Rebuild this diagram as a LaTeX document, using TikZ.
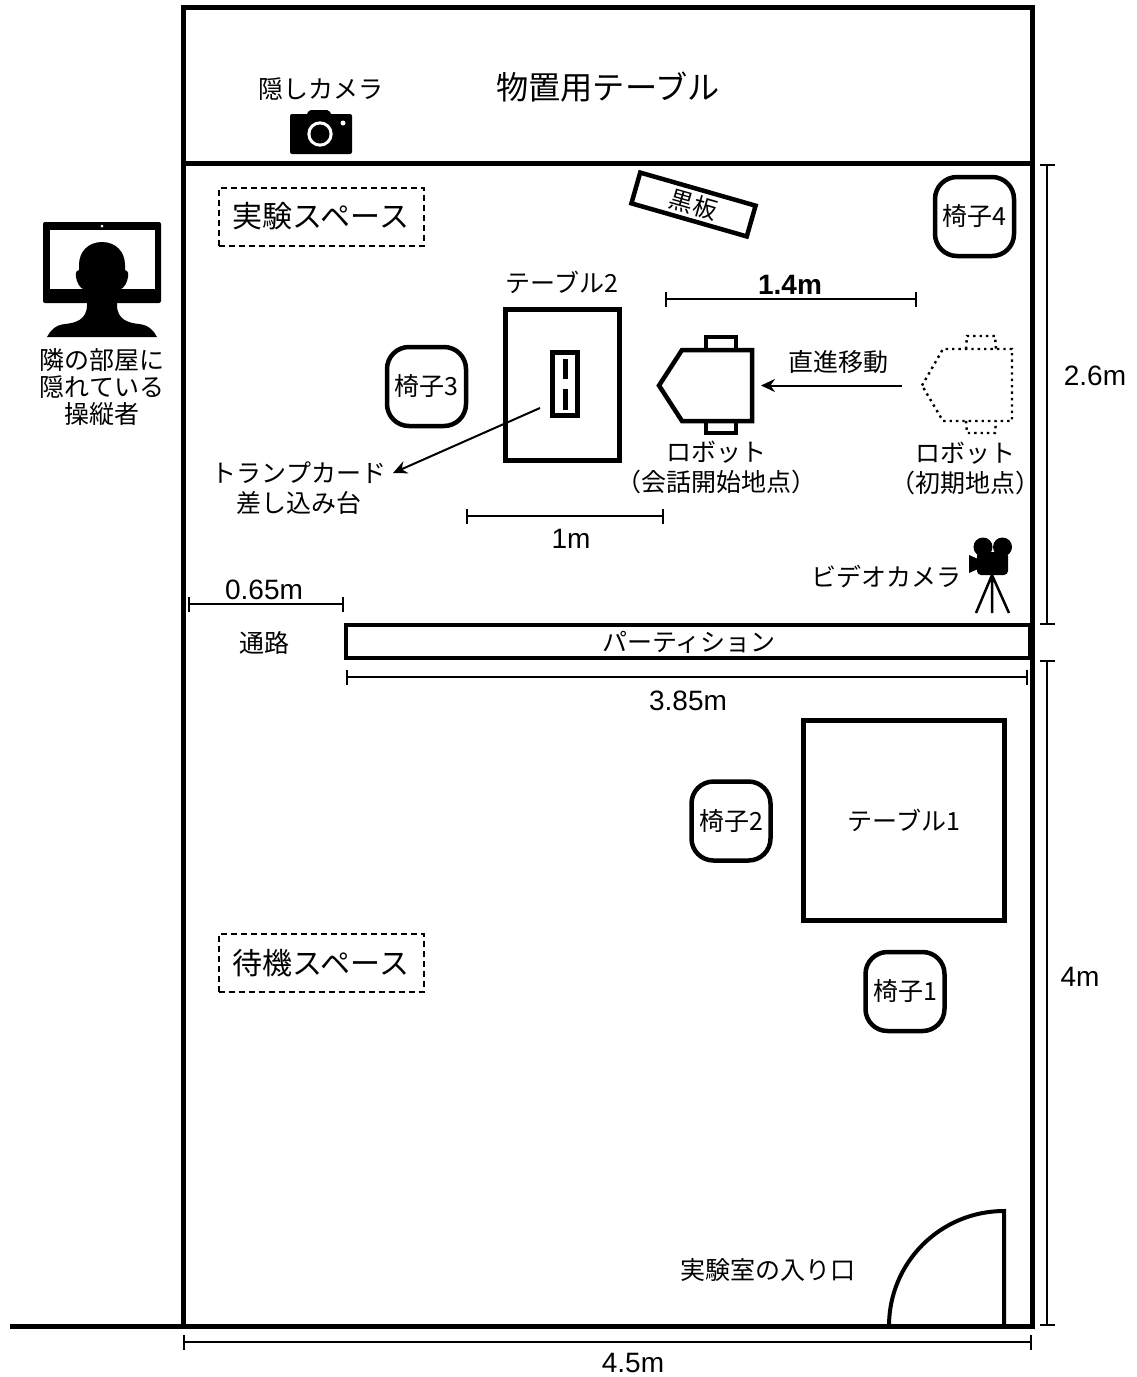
\documentclass[tikz,border=0pt]{standalone}
\usepackage{fontspec}
\setmainfont{Noto Sans CJK JP}
\newfontfamily\dimfont{Liberation Sans}
\usetikzlibrary{arrows.meta}

\begin{document}
\begin{tikzpicture}[x=0.5pt, y=-0.5pt,
    wall/.style={line width=2.5pt},
    thing/.style={draw, line width=2.25pt, inner sep=0},
    chair/.style={thing, rounded corners=11pt, minimum width=39.5pt,
            minimum height=39.5pt, font=\fontsize{12.5}{14}\selectfont},
    space/.style={draw, dash pattern=on 3pt off 2pt, line width=1pt, minimum width=102.5pt,
            minimum height=29pt, font=\fontsize{15}{17}\selectfont},
    label/.style={inner sep=0, align=center, font=\fontsize{12.5}{13.5}\selectfont},
    dimlabel/.style={inner sep=0, font=\fontsize{14}{16}\selectfont\dimfont},
    dimline/.style={line width=1pt, {Bar[width=7.5pt]}-{Bar[width=7.5pt]}},
    pointer/.style={line width=1pt, -{Stealth[length=7pt, width=6.5pt]}}]
  \useasboundingbox (0,0) rectangle (1136,1377);

  \draw[wall] (183,7) rectangle (1032,1326);
  \draw[wall] (183,163) -- (1032,163);
  \draw[wall] (10,1326) -- (183,1326);

  \node[label, font=\fontsize{16.1}{18}\selectfont] (shelf) at (608,87) {物置用テーブル};
  \node[label] (hiddenlabel) at (321,89) {隠しカメラ};
  \fill[rounded corners=1pt] (290,114) rectangle (352,154);
  \fill[rounded corners=1pt] (305,118) -- (309,110) -- (329,110) -- (333,118) -- cycle;
  \fill[white] (320,134) circle (12.7);
  \fill (320,134) circle (9.5);
  \fill[white] (343,123) circle (2.5);

  \fill[rounded corners=1pt] (43,222) rectangle (161,303);
  \fill[white] (50,230) rectangle (155,289);
  \fill[white] (102,226) circle (1.5);
  \fill (102,242) .. controls (88,242) and (79,252) .. (79,265)
    -- (79,270) .. controls (75,271) and (75,275) .. (77,281)
    .. controls (79,287) and (82,289) .. (87,291)
    -- (87,305) .. controls (87,320) and (75,323) .. (65,324)
    .. controls (55,325) and (50,331) .. (47,337) -- (157,337)
    .. controls (154,331) and (149,325) .. (139,324)
    .. controls (129,323) and (117,320) .. (117,305)
    -- (117,291) .. controls (122,289) and (125,287) .. (127,281)
    .. controls (129,275) and (129,271) .. (125,270)
    -- (125,265) .. controls (125,252) and (116,242) .. (102,242) -- cycle;
  \node[label] (operator) at (102,387) {隣の部屋に\\隠れている\\操縦者};

  \node[space] (testspace) at (321,216.5) {実験スペース};
  \node[space] (waitspace) at (321,963) {待機スペース};

  \node[thing, rotate=-16, minimum width=60pt, minimum height=16pt,
    font=\fontsize{12}{13}\selectfont] (board) at (693.5,204.5) {黒板};

  \foreach \n/\x/\y in {1/905/991.5, 2/731/821, 3/426.5/386.5, 4/974.5/216.5}
    \node[chair] (chair\n) at (\x,\y) {椅子\n};

  \node[thing, minimum width=57.2pt, minimum height=75.7pt] (table2) at (562.5,385) {};
  \node[label] (table2label) at (562,282) {テーブル2};
  \node[thing, minimum width=12.7pt, minimum height=31.7pt] (stand) at (565,384) {};
  \draw[line width=2.5pt] (565,359) -- (565,379) (565,389) -- (565,410);
  \node[label] (standlabel) at (299,488) {トランプカード\\[1.5pt]差し込み台};
  \coordinate (standfrom) at (540,408);
  \coordinate (standto) at (393,473);
  \draw[pointer] (standfrom) -- (standto);

  \draw[line width=2.25pt] (659,385.5) -- (682,350) -- (752,350) -- (752,421) -- (682,421) -- cycle;
  \draw[line width=1.75pt] (706,350) -- (706,337) -- (736,337) -- (736,350)
    (706,421) -- (706,433) -- (736,433) -- (736,421);
  \draw[dotted, line width=1.2pt] (922,385.5) -- (943,349) -- (1012,349) -- (1012,421) -- (943,421) -- cycle;
  \draw[dotted, line width=1.2pt] (966,349) -- (967,336) -- (995,336) -- (996,349)
    (966,421) -- (967,433) -- (995,433) -- (996,421);
  \coordinate (robotback) at (752,385.5);
  \coordinate (initnose) at (922,385.5);
  \draw[pointer, shorten >=4.5pt, shorten <=10pt] (initnose) -- (robotback);
  \node[label] (movelabel) at (838,362) {直進移動};
  \node[label] (robotlabel) at (716,467) {ロボット\hspace{4pt}\\[1.5pt]（会話開始地点）};
  \node[label] (initlabel) at (965,468) {ロボット\\[1.5pt]（初期地点）};

  \fill (983,547) circle (9.5) (1002.5,547) circle (9.5);
  \fill[rounded corners=2pt] (977,552) rectangle (1008,575);
  \fill (969,555) -- (978,559) -- (978,569) -- (969,573) -- cycle;
  \draw[line width=1.25pt] (992,575) -- (976,613) (992,575) -- (992,613) (992,575) -- (1009,613);
  \node[label] (videolabel) at (886,577) {ビデオカメラ};

  \node[thing, minimum width=342pt, minimum height=16.5pt] (partition) at (688,641.5) {};
  \node[label] (partitionlabel) at (689,642) {パーティション};
  \node[label] (aisle) at (264,643) {通路};

  \node[thing, label, line width=2.25pt, minimum width=100.5pt, minimum height=100pt] (table1) at (904,820.5) {テーブル1};

  \draw[line width=2pt] (889,1326) arc[start angle=180, end angle=270, radius=115]
    -- (1004,1326) -- cycle;
  \node[label] (doorlabel) at (768,1270) {実験室の入り口};

  \draw[dimline] (665,299) -- (917,299);
  \node[dimlabel, font=\fontsize{14}{16}\selectfont\dimfont\bfseries] (dist14) at (790,285) {1.4m};
  \draw[dimline] (466,516) -- (664,516);
  \node[dimlabel] (dist1) at (571,539) {1m};
  \draw[dimline] (188,604) -- (344,604);
  \node[dimlabel] (dist065) at (264,590) {0.65m};
  \draw[dimline] (346,677) -- (1028,677);
  \node[dimlabel] (dist385) at (688,701) {3.85m};
  \draw[dimline] (183,1342) -- (1032,1342);
  \node[dimlabel] (dist45) at (633,1363) {4.5m};
  \draw[dimline] (1047,164) -- (1047,625);
  \node[dimlabel] (dist26) at (1095,376) {2.6m};
  \draw[dimline] (1047,660) -- (1047,1326);
  \node[dimlabel] (dist4) at (1080,977) {4m};
\end{tikzpicture}
\end{document}
